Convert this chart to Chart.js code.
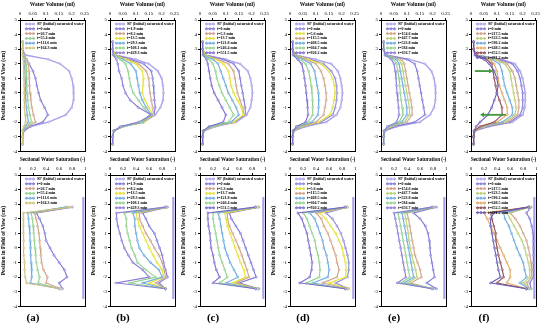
<!DOCTYPE html>
<html>
<head>
<meta charset="utf-8">
<script src="https://cdn.jsdelivr.net/npm/chart.js@4.4.1/dist/chart.umd.min.js"></script>
<style>
  body { margin: 0; background: #fff; width: 550px; height: 332px; position: relative; overflow: hidden; }
  canvas { position: absolute; }
  .lab { position: absolute; top: 311px; width: 40px; text-align: center; font: bold 11px "Liberation Serif", serif; color: #000; }
</style>
</head>
<body>
<script>
// --- positions (cm) and tick labels ---
const posVol = [3.5, 3.0, 2.6, 2.3, 2.0, 1.5, 1.0, 0.5, 0, -0.5, -1.0, -1.5, -2.0, -2.3, -2.6, -3.0, -3.5];
const posSat = [2.8, 2.4, 2.0, 1.5, 1.0, 0.5, 0, -0.5, -1.0, -1.5, -2.0, -2.4, -2.8];
const posSatSP = [3.5, 3.0, 2.5, 2.0, 1.5, 1.0, 0.5, 0, -0.5, -1.0, -1.5, -2.0, -2.5, -3.0, -3.5];
const satSP = [0.97, 0.97, 0.97, 0.97, 0.97, 0.97, 0.97, 0.97, 0.97, 0.97, 0.97, 0.97, 0.97, 0.97, 0.97];
const volTicks = [0, 0.05, 0.1, 0.15, 0.2, 0.25];
const satTicks = [0, 0.2, 0.4, 0.6, 0.8, 1];
const posTicks = [5, 4, 3, 2, 1, 0, -1, -2, -3, -4];
const panelLabels = ['(a)', '(b)', '(c)', '(d)', '(e)', '(f)'];

// --- legends ---
const legA = ['SP (Initial) saturated water', 't=0 min', 't=26.7 min', 't=55.4 min', 't=111.6 min', 't=164.3 min'];
const legB = ['SP (Initial) saturated water', 't=1.9 min', 't=8.2 min', 't=13.5 min', 't=29.3 min', 't=108.1 min', 't=429.3 min'];
const legC = ['SP (Initial) saturated water', 't=0 min', 't=5.3 min', 't=13.7 min', 't=121.8 min', 't=246.4 min', 't=551.5 min'];
const legD = ['SP (Initial) saturated water', 't=0 min', 't=5.6 min', 't=115.5 min', 't=408.5 min', 't=604.7 min', 't=920.2 min'];
const legE = ['SP (Initial) saturated water', 't=0 min', 't=154.6 min', 't=447.7 min', 't=523.8 min', 't=584 min', 't=656.7 min'];
const legF = ['SP (Initial) saturated water', 't=0 min', 't=217.5 min', 't=323.5 min', 't=590.2 min', 't=648.5 min', 't=652.5 min', 't=691.2 min'];

// --- water volume (ml), one row per series, along posVol ---
const volA = [
  [0.01, 0.01, 0.02, 0.11, 0.155, 0.19, 0.2, 0.206, 0.208, 0.207, 0.2, 0.177, 0.11, 0.04, 0.015, 0.01, 0.01],
  [0.01, 0.01, 0.015, 0.025, 0.035, 0.05, 0.06, 0.065, 0.072, 0.08, 0.095, 0.108, 0.088, 0.04, 0.015, 0.01, 0.01],
  [0.01, 0.01, 0.015, 0.025, 0.033, 0.035, 0.036, 0.037, 0.039, 0.042, 0.046, 0.052, 0.06, 0.03, 0.012, 0.01, 0.01],
  [0.01, 0.01, 0.013, 0.02, 0.024, 0.025, 0.026, 0.027, 0.028, 0.03, 0.033, 0.038, 0.045, 0.025, 0.012, 0.01, 0.01],
  [0.01, 0.01, 0.012, 0.016, 0.018, 0.019, 0.02, 0.021, 0.022, 0.023, 0.025, 0.028, 0.033, 0.02, 0.011, 0.01, 0.01],
  [0.01, 0.01, 0.011, 0.013, 0.014, 0.015, 0.015, 0.016, 0.016, 0.017, 0.018, 0.02, 0.022, 0.015, 0.01, 0.01, 0.01]
];
const volB = [
  [0.01, 0.01, 0.02, 0.1, 0.15, 0.185, 0.2, 0.205, 0.207, 0.205, 0.195, 0.175, 0.13, 0.05, 0.015, 0.01, 0.01],
  [0.01, 0.01, 0.02, 0.08, 0.13, 0.16, 0.165, 0.168, 0.17, 0.172, 0.175, 0.17, 0.13, 0.05, 0.015, 0.01, 0.01],
  [0.01, 0.01, 0.02, 0.07, 0.11, 0.14, 0.15, 0.152, 0.155, 0.16, 0.165, 0.168, 0.13, 0.05, 0.015, 0.01, 0.01],
  [0.01, 0.01, 0.02, 0.06, 0.1, 0.125, 0.13, 0.128, 0.125, 0.135, 0.15, 0.165, 0.13, 0.05, 0.015, 0.01, 0.01],
  [0.01, 0.01, 0.015, 0.05, 0.08, 0.1, 0.105, 0.11, 0.115, 0.125, 0.14, 0.16, 0.125, 0.05, 0.015, 0.01, 0.01],
  [0.01, 0.01, 0.015, 0.04, 0.06, 0.07, 0.075, 0.08, 0.09, 0.11, 0.13, 0.155, 0.12, 0.045, 0.015, 0.01, 0.01],
  [0.01, 0.01, 0.012, 0.025, 0.03, 0.035, 0.045, 0.05, 0.06, 0.078, 0.11, 0.16, 0.11, 0.04, 0.015, 0.01, 0.01]
];
const volC = [
  [0.01, 0.01, 0.02, 0.1, 0.155, 0.185, 0.195, 0.2, 0.203, 0.2, 0.195, 0.18, 0.14, 0.06, 0.015, 0.01, 0.01],
  [0.01, 0.01, 0.02, 0.09, 0.13, 0.15, 0.155, 0.16, 0.165, 0.17, 0.175, 0.175, 0.13, 0.05, 0.015, 0.01, 0.01],
  [0.01, 0.01, 0.02, 0.07, 0.11, 0.13, 0.135, 0.14, 0.145, 0.155, 0.165, 0.17, 0.13, 0.05, 0.015, 0.01, 0.01],
  [0.01, 0.01, 0.02, 0.06, 0.09, 0.11, 0.115, 0.12, 0.13, 0.145, 0.16, 0.168, 0.13, 0.05, 0.015, 0.01, 0.01],
  [0.01, 0.01, 0.015, 0.05, 0.07, 0.08, 0.09, 0.1, 0.11, 0.125, 0.14, 0.15, 0.12, 0.045, 0.015, 0.01, 0.01],
  [0.01, 0.01, 0.015, 0.035, 0.05, 0.06, 0.065, 0.075, 0.085, 0.1, 0.115, 0.13, 0.11, 0.04, 0.015, 0.01, 0.01],
  [0.01, 0.01, 0.012, 0.025, 0.03, 0.035, 0.04, 0.045, 0.055, 0.07, 0.085, 0.1, 0.09, 0.035, 0.012, 0.01, 0.01]
];
const volD = [
  [0.01, 0.01, 0.02, 0.1, 0.16, 0.185, 0.195, 0.2, 0.203, 0.2, 0.195, 0.18, 0.14, 0.06, 0.015, 0.01, 0.01],
  [0.01, 0.01, 0.02, 0.08, 0.13, 0.16, 0.175, 0.18, 0.182, 0.18, 0.175, 0.165, 0.12, 0.05, 0.015, 0.01, 0.01],
  [0.01, 0.01, 0.02, 0.07, 0.12, 0.15, 0.165, 0.172, 0.175, 0.17, 0.165, 0.155, 0.11, 0.045, 0.015, 0.01, 0.01],
  [0.01, 0.01, 0.02, 0.06, 0.1, 0.12, 0.13, 0.135, 0.14, 0.14, 0.135, 0.13, 0.1, 0.04, 0.015, 0.01, 0.01],
  [0.01, 0.01, 0.015, 0.05, 0.08, 0.095, 0.1, 0.105, 0.11, 0.112, 0.11, 0.108, 0.085, 0.035, 0.012, 0.01, 0.01],
  [0.01, 0.01, 0.015, 0.04, 0.06, 0.072, 0.078, 0.082, 0.085, 0.087, 0.088, 0.088, 0.07, 0.03, 0.012, 0.01, 0.01],
  [0.01, 0.01, 0.012, 0.03, 0.045, 0.052, 0.056, 0.06, 0.063, 0.066, 0.068, 0.07, 0.06, 0.025, 0.012, 0.01, 0.01]
];
const volE = [
  [0.01, 0.01, 0.02, 0.11, 0.17, 0.195, 0.205, 0.21, 0.212, 0.21, 0.205, 0.19, 0.15, 0.06, 0.015, 0.01, 0.01],
  [0.01, 0.01, 0.02, 0.1, 0.13, 0.14, 0.145, 0.15, 0.155, 0.16, 0.165, 0.17, 0.13, 0.05, 0.015, 0.01, 0.01],
  [0.01, 0.01, 0.02, 0.08, 0.09, 0.095, 0.1, 0.105, 0.11, 0.115, 0.12, 0.12, 0.1, 0.04, 0.015, 0.01, 0.01],
  [0.01, 0.01, 0.02, 0.07, 0.08, 0.085, 0.09, 0.095, 0.1, 0.105, 0.11, 0.11, 0.09, 0.035, 0.012, 0.01, 0.01],
  [0.01, 0.01, 0.018, 0.06, 0.07, 0.075, 0.08, 0.085, 0.09, 0.095, 0.1, 0.1, 0.08, 0.03, 0.012, 0.01, 0.01],
  [0.01, 0.01, 0.016, 0.05, 0.06, 0.065, 0.07, 0.072, 0.075, 0.078, 0.082, 0.085, 0.07, 0.03, 0.012, 0.01, 0.01],
  [0.01, 0.01, 0.015, 0.04, 0.05, 0.055, 0.058, 0.06, 0.062, 0.065, 0.068, 0.07, 0.06, 0.025, 0.012, 0.01, 0.01]
];
const volF = [
  [0.01, 0.01, 0.02, 0.12, 0.17, 0.19, 0.2, 0.205, 0.21, 0.21, 0.208, 0.2, 0.16, 0.07, 0.015, 0.01, 0.01],
  [0.01, 0.01, 0.02, 0.11, 0.16, 0.18, 0.19, 0.195, 0.2, 0.2, 0.2, 0.19, 0.15, 0.06, 0.015, 0.01, 0.01],
  [0.01, 0.01, 0.02, 0.1, 0.14, 0.16, 0.17, 0.175, 0.18, 0.185, 0.185, 0.18, 0.14, 0.05, 0.015, 0.01, 0.01],
  [0.01, 0.01, 0.02, 0.09, 0.13, 0.15, 0.155, 0.16, 0.165, 0.17, 0.175, 0.17, 0.13, 0.05, 0.015, 0.01, 0.01],
  [0.01, 0.01, 0.02, 0.08, 0.11, 0.12, 0.125, 0.13, 0.14, 0.15, 0.16, 0.16, 0.12, 0.045, 0.015, 0.01, 0.01],
  [0.01, 0.01, 0.02, 0.07, 0.09, 0.1, 0.105, 0.11, 0.12, 0.13, 0.14, 0.14, 0.1, 0.04, 0.015, 0.01, 0.01],
  [0.01, 0.01, 0.018, 0.06, 0.08, 0.085, 0.09, 0.095, 0.1, 0.11, 0.12, 0.12, 0.09, 0.035, 0.012, 0.01, 0.01],
  [0.01, 0.01, 0.015, 0.05, 0.07, 0.09, 0.1, 0.105, 0.1, 0.09, 0.08, 0.065, 0.035, 0.02, 0.012, 0.01, 0.01]
];

// --- sectional water saturation (-), along posSat (SP row uses posSatSP) ---
const satA = [
  satSP,
  [0.8, 0.25, 0.3, 0.35, 0.38, 0.4, 0.46, 0.52, 0.6, 0.68, 0.72, 0.6, 0.65],
  [0.75, 0.22, 0.25, 0.27, 0.29, 0.3, 0.31, 0.32, 0.33, 0.36, 0.42, 0.4, 0.62],
  [0.72, 0.17, 0.19, 0.2, 0.21, 0.22, 0.23, 0.24, 0.25, 0.27, 0.3, 0.28, 0.6],
  [0.7, 0.12, 0.13, 0.14, 0.15, 0.155, 0.16, 0.165, 0.17, 0.18, 0.18, 0.16, 0.6],
  [0.78, 0.05, 0.05, 0.05, 0.05, 0.06, 0.06, 0.06, 0.07, 0.07, 0.08, 0.1, 0.62]
];
const satB = [
  satSP,
  [0.88, 0.5, 0.55, 0.6, 0.68, 0.72, 0.76, 0.8, 0.82, 0.85, 0.88, 0.75, 0.85],
  [0.87, 0.45, 0.45, 0.5, 0.55, 0.62, 0.68, 0.75, 0.8, 0.83, 0.85, 0.7, 0.85],
  [0.86, 0.4, 0.42, 0.45, 0.5, 0.55, 0.6, 0.66, 0.72, 0.8, 0.82, 0.6, 0.85],
  [0.85, 0.35, 0.38, 0.38, 0.4, 0.42, 0.45, 0.52, 0.62, 0.75, 0.8, 0.5, 0.85],
  [0.85, 0.22, 0.25, 0.25, 0.27, 0.3, 0.33, 0.38, 0.42, 0.55, 0.7, 0.3, 0.85],
  [0.85, 0.1, 0.1, 0.12, 0.15, 0.18, 0.22, 0.28, 0.35, 0.5, 0.6, 0.1, 0.85]
];
const satC = [
  satSP,
  [0.9, 0.45, 0.48, 0.55, 0.62, 0.66, 0.7, 0.74, 0.78, 0.82, 0.86, 0.6, 0.9],
  [0.88, 0.42, 0.42, 0.45, 0.5, 0.55, 0.6, 0.64, 0.68, 0.72, 0.75, 0.55, 0.9],
  [0.88, 0.38, 0.4, 0.42, 0.46, 0.5, 0.54, 0.58, 0.62, 0.67, 0.7, 0.5, 0.88],
  [0.85, 0.28, 0.3, 0.32, 0.34, 0.36, 0.38, 0.42, 0.46, 0.52, 0.58, 0.4, 0.88],
  [0.85, 0.2, 0.2, 0.22, 0.24, 0.26, 0.28, 0.3, 0.34, 0.38, 0.42, 0.3, 0.85],
  [0.85, 0.12, 0.12, 0.13, 0.15, 0.16, 0.17, 0.2, 0.22, 0.25, 0.3, 0.2, 0.85]
];
const satD = [
  satSP,
  [0.88, 0.55, 0.65, 0.72, 0.78, 0.82, 0.85, 0.88, 0.9, 0.9, 0.88, 0.7, 0.9],
  [0.88, 0.45, 0.55, 0.62, 0.7, 0.75, 0.8, 0.82, 0.85, 0.86, 0.85, 0.6, 0.9],
  [0.86, 0.4, 0.48, 0.52, 0.58, 0.62, 0.66, 0.7, 0.72, 0.75, 0.72, 0.5, 0.88],
  [0.85, 0.3, 0.38, 0.42, 0.46, 0.5, 0.52, 0.56, 0.58, 0.6, 0.58, 0.35, 0.85],
  [0.85, 0.2, 0.26, 0.3, 0.34, 0.38, 0.4, 0.43, 0.45, 0.46, 0.45, 0.25, 0.85],
  [0.85, 0.12, 0.18, 0.22, 0.26, 0.28, 0.3, 0.32, 0.34, 0.33, 0.3, 0.15, 0.85]
];
const satE = [
  satSP,
  [0.85, 0.5, 0.6, 0.68, 0.72, 0.74, 0.75, 0.76, 0.78, 0.8, 0.82, 0.7, 0.85],
  [0.82, 0.4, 0.42, 0.44, 0.46, 0.48, 0.5, 0.52, 0.56, 0.6, 0.62, 0.45, 0.8],
  [0.8, 0.36, 0.38, 0.4, 0.42, 0.43, 0.45, 0.47, 0.5, 0.53, 0.55, 0.4, 0.8],
  [0.8, 0.32, 0.34, 0.36, 0.38, 0.4, 0.42, 0.44, 0.46, 0.48, 0.5, 0.35, 0.8],
  [0.78, 0.26, 0.28, 0.3, 0.32, 0.34, 0.36, 0.38, 0.4, 0.42, 0.44, 0.3, 0.78],
  [0.78, 0.2, 0.22, 0.24, 0.26, 0.28, 0.3, 0.32, 0.34, 0.36, 0.38, 0.25, 0.78]
];
const satF = [
  satSP,
  [0.92, 0.85, 0.9, 0.93, 0.95, 0.96, 0.96, 0.96, 0.96, 0.95, 0.95, 0.9, 0.92],
  [0.9, 0.6, 0.68, 0.75, 0.8, 0.85, 0.88, 0.9, 0.92, 0.93, 0.93, 0.85, 0.9],
  [0.9, 0.55, 0.6, 0.66, 0.72, 0.78, 0.82, 0.85, 0.88, 0.9, 0.9, 0.8, 0.9],
  [0.88, 0.5, 0.52, 0.58, 0.62, 0.66, 0.7, 0.75, 0.8, 0.82, 0.85, 0.75, 0.88],
  [0.88, 0.2, 0.25, 0.3, 0.35, 0.4, 0.45, 0.5, 0.55, 0.6, 0.6, 0.55, 0.85],
  [0.88, 0.3, 0.32, 0.35, 0.38, 0.38, 0.4, 0.42, 0.45, 0.48, 0.5, 0.4, 0.85],
  [0.88, 0.35, 0.3, 0.3, 0.32, 0.34, 0.36, 0.38, 0.4, 0.42, 0.45, 0.3, 0.85]
];

// green arrows drawn in panel (f), in data units [x, y]
const arrowFrom = [[0.015, 1.5], [0.135, -1.5]];
const arrowTo = [[0.085, 1.5], [0.035, -1.5]];

// --- colours ---
const colA = ['#aaa0ea', '#7c78d8', '#cfa184', '#8fd08a', '#6aa8e0', '#cfc07a'];
const colB = ['#aaa0ea', '#7c78d8', '#cfa184', '#e4e030', '#6aa8e0', '#8fd08a', '#8a7ad8'];
const colC = ['#aaa0ea', '#7c78d8', '#cfa184', '#e4e030', '#6aa8e0', '#8fd08a', '#7a6ad0'];
const colD = ['#aaa0ea', '#8a86dc', '#e4e030', '#cfa184', '#6aa8e0', '#8fd08a', '#7a6ad0'];
const colE = ['#aaa0ea', '#7c78d8', '#cfa184', '#b8cf70', '#6aa8e0', '#8fd08a', '#8a7ad8'];
const colF = ['#aaa0ea', '#7c78d8', '#cfa184', '#b8cf70', '#6aa8e0', '#e0a860', '#8b4a5a', '#6a5ab8'];

const FONT = '"Liberation Serif", "Times New Roman", serif';
const COL_STEP = 90.15;
const PANEL_W = 90, PANEL_H = 156;

// box around plot area
const framePlugin = {
  id: 'frame',
  afterDraw(chart) {
    const a = chart.chartArea, ctx = chart.ctx;
    ctx.save();
    ctx.strokeStyle = '#000';
    ctx.lineWidth = 1;
    ctx.strokeRect(Math.round(a.left) + 0.5, Math.round(a.top) + 0.5, Math.round(a.right - a.left), Math.round(a.bottom - a.top));
    ctx.restore();
  }
};

// legend drawn inside the plot, top-left
const innerLegend = {
  id: 'innerLegend',
  afterDatasetsDraw(chart) {
    const a = chart.chartArea, ctx = chart.ctx;
    ctx.save();
    ctx.font = 'bold 4px ' + FONT;
    ctx.textBaseline = 'middle';
    chart.data.datasets.forEach((ds, i) => {
      const y = a.top + 4 + i * 4.8;
      const x0 = a.left + 5, x1 = a.left + 15;
      ctx.strokeStyle = ds.borderColor;
      ctx.lineWidth = 1;
      ctx.beginPath(); ctx.moveTo(x0, y); ctx.lineTo(x1, y); ctx.stroke();
      [x0 + 1.5, (x0 + x1) / 2, x1 - 1.5].forEach(px => {
        ctx.beginPath(); ctx.arc(px, y, 1, 0, Math.PI * 2); ctx.stroke();
      });
      ctx.fillStyle = '#000';
      ctx.fillText(ds.label, a.left + 17, y);
    });
    ctx.restore();
  }
};

// arrows (panel f top only)
const arrowPlugin = {
  id: 'arrows',
  afterDatasetsDraw(chart, args, opts) {
    if (!opts.show) return;
    const ctx = chart.ctx, sx = chart.scales.x, sy = chart.scales.y;
    ctx.save();
    ctx.strokeStyle = '#3f9a3a';
    ctx.fillStyle = '#3f9a3a';
    ctx.lineWidth = 1.8;
    arrowFrom.forEach((f, i) => {
      const t = arrowTo[i];
      const x0 = sx.getPixelForValue(f[0]), y0 = sy.getPixelForValue(f[1]);
      const x1 = sx.getPixelForValue(t[0]), y1 = sy.getPixelForValue(t[1]);
      const dir = Math.sign(x1 - x0);
      ctx.beginPath(); ctx.moveTo(x0, y0); ctx.lineTo(x1 - dir * 3, y1); ctx.stroke();
      ctx.beginPath();
      ctx.moveTo(x1, y1); ctx.lineTo(x1 - dir * 4, y1 - 2.5); ctx.lineTo(x1 - dir * 4, y1 + 2.5);
      ctx.closePath(); ctx.fill();
    });
    ctx.restore();
  }
};

function makeDatasets(rows, positions, labels, colors, spPositions) {
  return rows.map((row, i) => {
    const isSP = i === 0 && spPositions;
    const ys = isSP ? spPositions : positions;
    return {
      label: labels[i],
      data: row.map((v, k) => ({ x: v, y: ys[k] })),
      showLine: true,
      borderColor: colors[i],
      backgroundColor: 'rgba(255,255,255,0.5)',
      borderWidth: isSP ? 2.2 : (i === 0 ? 1.4 : 1.1),
      pointRadius: isSP ? 0 : 1,
      pointBorderWidth: 0.7,
      pointBorderColor: colors[i],
      pointBackgroundColor: 'rgba(255,255,255,0.5)',
      order: rows.length - i
    };
  });
}

function makeChart(left, top, datasets, xTicks, xMax, xTitle, showArrows) {
  const cv = document.createElement('canvas');
  cv.width = PANEL_W; cv.height = PANEL_H;
  cv.style.left = left + 'px'; cv.style.top = top + 'px';
  cv.style.width = PANEL_W + 'px'; cv.style.height = PANEL_H + 'px';
  document.body.appendChild(cv);
  const tickFont = { family: FONT, size: 5 };
  const titleFont = { family: FONT, size: 5.5, weight: 'bold' };
  new Chart(cv, {
    type: 'scatter',
    data: { datasets },
    options: {
      responsive: false,
      animation: false,
      devicePixelRatio: 1,
      layout: { padding: { left: 0, right: 2, top: 0, bottom: 2 } },
      plugins: { legend: { display: false }, tooltip: { enabled: false }, arrows: { show: showArrows } },
      scales: {
        x: {
          type: 'linear', position: 'top', min: 0, max: xMax,
          afterBuildTicks: s => { s.ticks = xTicks.map(v => ({ value: v })); },
          afterFit: s => { s.height = 20; },
          ticks: { font: tickFont, color: '#000', padding: 1, maxRotation: 0, autoSkip: false, callback: v => String(v) },
          grid: { display: true, drawOnChartArea: false, tickLength: 2, color: '#000' },
          border: { color: '#000' },
          title: { display: true, text: xTitle, font: titleFont, color: '#000', padding: { top: 1, bottom: 0 } }
        },
        y: {
          type: 'linear', min: -4, max: 5,
          afterBuildTicks: s => { s.ticks = posTicks.map(v => ({ value: v })); },
          afterFit: s => { s.width = 20; },
          ticks: { font: tickFont, color: '#000', padding: 1, autoSkip: false, callback: v => String(v) },
          grid: { display: true, drawOnChartArea: false, tickLength: 2, color: '#000' },
          border: { color: '#000' },
          title: { display: true, text: 'Position in Field of View (cm)', font: titleFont, color: '#000', padding: { top: 0, bottom: 1 } }
        }
      }
    },
    plugins: [framePlugin, innerLegend, arrowPlugin]
  });
}

const volRows = [volA, volB, volC, volD, volE, volF];
const satRows = [satA, satB, satC, satD, satE, satF];
const legends = [legA, legB, legC, legD, legE, legF];
const colours = [colA, colB, colC, colD, colE, colF];

for (let c = 0; c < 6; c++) {
  const left = Math.round(c * COL_STEP);
  makeChart(left, 0, makeDatasets(volRows[c], posVol, legends[c], colours[c]),
    volTicks, 0.25, 'Water Volume (ml)', c === 5);
  makeChart(left, 155, makeDatasets(satRows[c], posSat, legends[c], colours[c], posSatSP),
    satTicks, 1, 'Sectional Water Saturation (-)', false);
  const lab = document.createElement('div');
  lab.className = 'lab';
  lab.textContent = panelLabels[c];
  lab.style.left = (left + 13) + 'px';
  document.body.appendChild(lab);
}
</script>
</body>
</html>
